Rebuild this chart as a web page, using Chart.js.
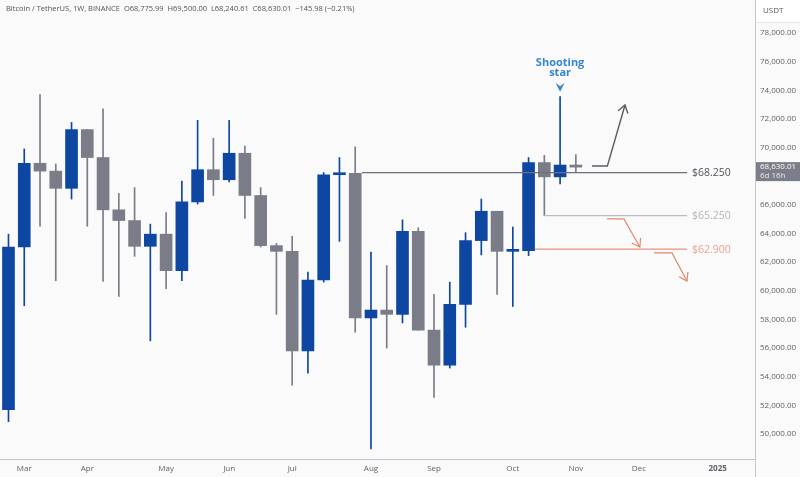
<!DOCTYPE html>
<html><head><meta charset="utf-8">
<script src="https://cdn.jsdelivr.net/npm/chart.js@4/dist/chart.umd.min.js"></script>
<style>html,body{margin:0;padding:0;background:#fafafa;}#c{display:block;}</style>
</head><body>
<canvas id="c" width="800" height="477"></canvas>
<script>
// ---- data (weekly candles, BTC/USDT) ----
const weeks = ['2024-02-26','2024-03-04','2024-03-11','2024-03-18','2024-03-25','2024-04-01','2024-04-08','2024-04-15','2024-04-22','2024-04-29','2024-05-06','2024-05-13','2024-05-20','2024-05-27','2024-06-03','2024-06-10','2024-06-17','2024-06-24','2024-07-01','2024-07-08','2024-07-15','2024-07-22','2024-07-29','2024-08-05','2024-08-12','2024-08-19','2024-08-26','2024-09-02','2024-09-09','2024-09-16','2024-09-23','2024-09-30','2024-10-07','2024-10-14','2024-10-21','2024-10-28','2024-11-04'];
const opens  = [51700,63050,68900,68350,67150,71250,69300,65650,64900,63100,63950,61400,66200,68450,67750,69600,66650,63150,62750,55800,60750,68100,68200,58100,58650,58350,64150,57250,54800,59050,63500,65550,62750,62800,68950,67950,68775.99];
const highs  = [63950,69900,73700,68850,71750,71250,72700,66800,67200,64650,65450,67650,71900,70650,71900,70100,67200,63300,63800,61300,68250,69300,70050,62700,61750,64950,64400,59750,60600,64050,66400,65550,64450,69300,69450,73550,69500.00];
const lows   = [50850,58950,64500,60700,66400,64500,60650,59600,62400,56500,60150,60700,66050,66650,67600,65050,63050,58350,53400,54250,60600,63450,57100,48950,56000,57750,57250,52550,54600,57450,62500,59750,58900,62450,65250,67450,68240.61];
const closes = [63050,68900,68350,67150,71250,69300,65650,64900,63100,63950,61400,66200,68450,67750,69600,66650,63150,62750,55800,60750,68100,68200,58100,58650,58350,64150,57250,54800,59050,63500,65550,62750,62800,68950,67950,68775.99,68630.01];

const monthLabels = ['Mar','Apr','May','Jun','Jul','Aug','Sep','Oct','Nov','Dec','2025'];
const monthIdx    = [1,5,10,14,18,23,27,32,36,40,45];
const yTicks = [50000,52000,54000,56000,58000,60000,62000,64000,66000,68000,70000,72000,74000,76000,78000];

// annotation levels
const levelPrices = [68250, 65250, 62900];
const levelLabels = ['$68.250', '$65.250', '$62.900'];
const levelFrom   = [22.43, 34, 33.4];
const levelTo     = 43.05;
// arrows: [weekIndex, price]
const arrowUp    = [[37.02,68712],[38.0,68712],[39.12,72972]];
const arrowDown1 = [[37.98,65011],[39.05,65011],[40.06,63056]];
const arrowDown2 = [[40.96,62637],[42.1,62637],[43.05,60681]];
const starIndex = 35;
const lastPrice = 68630.01;

// ---- styles ----
const UP = '#0e47a1', DOWN = '#7a7d87';
const FONT = "'Open Sans', 'Noto Sans', sans-serif";
const levelLine = ['#6c6f77', '#b9bcc3', '#e8937a'];
const levelText = ['#50535c', '#b2b5bc', '#eba18d'];

const colors = weeks.map((w,i) => closes[i] >= opens[i] ? UP : DOWN);
const bodyData = weeks.map((w,i) => ({x:i, y:[opens[i], closes[i]]}));
const wickData = weeks.map((w,i) => ({x:i, y:[lows[i], highs[i]]}));

const fmt = v => v.toLocaleString('en-US',{minimumFractionDigits:2, maximumFractionDigits:2});

const overlay = {
  id:'overlay',
  beforeDraw(chart){
    const c = chart.ctx;
    c.save(); c.fillStyle = '#fafafa'; c.fillRect(0,0,chart.width,chart.height); c.restore();
  },
  afterDraw(chart){
    const c = chart.ctx, xs = chart.scales.x, ys = chart.scales.y, a = chart.chartArea;
    const X = v => xs.getPixelForValue(v), Y = v => ys.getPixelForValue(v);
    c.save();
    // right axis line full height
    c.strokeStyle = '#c3c6cc'; c.lineWidth = 1;
    c.beginPath(); c.moveTo(Math.round(a.right)+0.5, 0); c.lineTo(Math.round(a.right)+0.5, chart.height); c.stroke();

    // title
    c.font = `7.5px ${FONT}`; c.fillStyle = '#4f525c'; c.textBaseline = 'middle'; c.textAlign = 'left';
    c.fillText('Bitcoin / TetherUS, 1W, BINANCE  O68,775.99  H69,500.00  L68,240.61  C68,630.01  \u2212145.98 (\u22120.21%)', 6, 9);

    // level lines
    for (let k=0;k<levelPrices.length;k++){
      const y = Y(levelPrices[k]);
      c.strokeStyle = levelLine[k]; c.lineWidth = 1.2;
      c.beginPath(); c.moveTo(X(levelFrom[k]), y); c.lineTo(X(levelTo), y); c.stroke();
      c.font = `10.5px ${FONT}`; c.fillStyle = levelText[k]; c.textAlign='left'; c.textBaseline='middle';
      c.fillText(levelLabels[k], X(levelTo)+5, y+0.5);
    }
    // arrows
    const drawArrow = (pts, color, lw) => {
      c.strokeStyle = color; c.lineWidth = lw; c.lineJoin='miter';
      c.beginPath();
      pts.forEach((p,i)=>{ const px=X(p[0]), py=Y(p[1]); i?c.lineTo(px,py):c.moveTo(px,py); });
      c.stroke();
      const n = pts.length, tx=X(pts[n-1][0]), ty=Y(pts[n-1][1]), fx=X(pts[n-2][0]), fy=Y(pts[n-2][1]);
      const ang = Math.atan2(ty-fy, tx-fx), L = 9, sp = 0.6;
      c.beginPath();
      c.moveTo(tx - L*Math.cos(ang-sp), ty - L*Math.sin(ang-sp));
      c.lineTo(tx, ty);
      c.lineTo(tx - L*Math.cos(ang+sp), ty - L*Math.sin(ang+sp));
      c.stroke();
    };
    drawArrow(arrowUp, '#5a5d66', 1.4);
    drawArrow(arrowDown1, '#e0896e', 1.2);
    drawArrow(arrowDown2, '#e0896e', 1.2);

    // shooting star label
    const sx = X(starIndex), sy = Y(highs[starIndex]);
    c.fillStyle = '#3486cc'; c.textAlign='center'; c.textBaseline='middle';
    c.font = `bold 11px ${FONT}`;
    c.fillText('Shooting', sx, sy-34);
    c.fillText('star', sx, sy-24);
    c.beginPath();
    c.moveTo(sx-4.5, sy-14); c.lineTo(sx, sy-10.5); c.lineTo(sx+4.5, sy-14); c.lineTo(sx, sy-5); c.closePath(); c.fill();

    // USDT box
    c.fillStyle = '#ffffff'; c.fillRect(a.right+1, 0, chart.width-a.right-1, 22);
    c.strokeStyle = '#e3e5e8'; c.beginPath(); c.moveTo(a.right+1, 22.5); c.lineTo(chart.width, 22.5); c.stroke();
    c.fillStyle = '#555862'; c.font = `8px ${FONT}`; c.textAlign='left';
    c.fillText('USDT', a.right+8, 11);

    // price box
    const py = Y(lastPrice);
    c.fillStyle = '#7b7e88'; c.fillRect(a.right+1, py-5, chart.width-a.right-1, 19);
    c.fillStyle = '#ffffff'; c.font = `8px ${FONT}`; c.textAlign='left'; c.textBaseline='middle';
    c.fillText(fmt(lastPrice), a.right+5, py);
    c.fillStyle = '#e8e9ec';
    c.fillText('6d 16h', a.right+5, py+9);
    c.restore();
  }
};

new Chart(document.getElementById('c'), {
  type: 'bar',
  data: { datasets: [
    { data: bodyData, backgroundColor: colors, barThickness: 12, grouped: false, order: 0, minBarLength: 2, borderWidth: 0 },
    { data: wickData, backgroundColor: colors, barThickness: 1, grouped: false, order: 1, borderWidth: 0 }
  ]},
  options: {
    responsive: false, animation: false, devicePixelRatio: 1,
    layout: { padding: 0 },
    plugins: { legend: { display: false }, tooltip: { enabled: false } },
    scales: {
      x: {
        type: 'linear', min: -0.539, max: 47.367, offset: false,
        grid: { display: false, drawTicks: false },
        border: { display: true, color: '#c3c6cc' },
        afterBuildTicks: s => { s.ticks = monthIdx.map(v => ({ value: v })); },
        afterFit: s => { s.height = 18; s.paddingLeft = 0; s.paddingRight = 0; s.paddingTop = 0; s.paddingBottom = 0; },
        ticks: {
          autoSkip: false, maxRotation: 0, padding: 5, color: '#5f626c',
          font: c => ({ family: FONT, size: 8, weight: (c.tick && c.tick.value === 45) ? 'bold' : 'normal' }),
          callback: v => monthLabels[monthIdx.indexOf(v)]
        }
      },
      y: {
        position: 'right', min: 48250, max: 80300,
        grid: { display: false, drawTicks: false },
        border: { display: true, color: '#c3c6cc' },
        afterBuildTicks: s => { s.ticks = yTicks.map(v => ({ value: v })); },
        afterFit: s => { s.width = 45; s.paddingTop = 0; s.paddingBottom = 0; s.paddingLeft = 0; s.paddingRight = 0; },
        ticks: { padding: 5, color: '#5f626c', font: { family: FONT, size: 8 }, callback: v => fmt(v) }
      }
    }
  },
  plugins: [overlay]
});
</script>
</body></html>
